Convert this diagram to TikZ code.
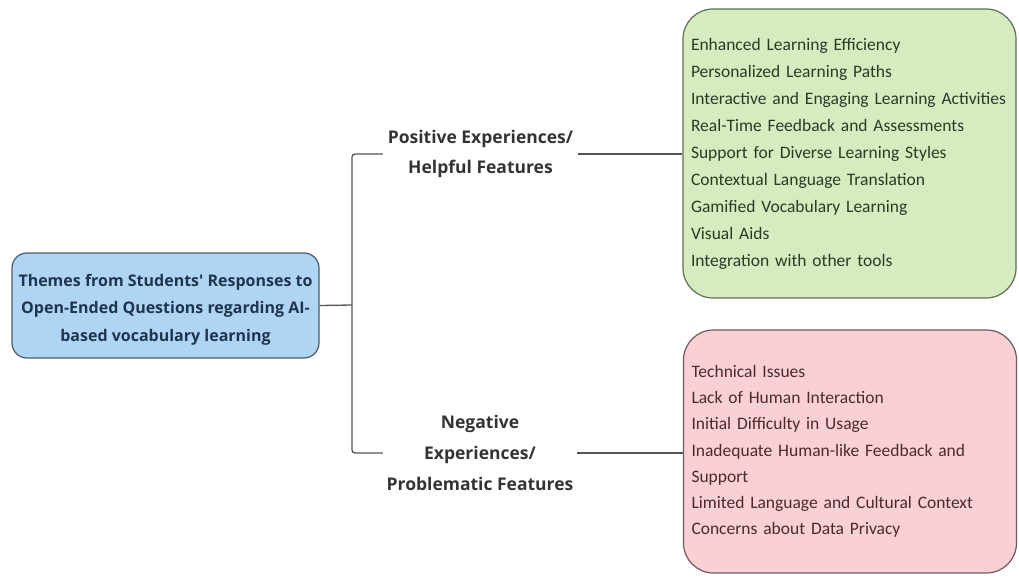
\documentclass[tikz,border=0pt]{standalone}
\usepackage{fontspec}
\setmainfont{Carlito}
\newfontfamily\labelfont{Open Sans}
\usetikzlibrary{positioning}
\definecolor{rootfill}{HTML}{B0D5F4}
\definecolor{rootdraw}{HTML}{4A5A6C}
\definecolor{roottext}{HTML}{1E3550}
\definecolor{posfill}{HTML}{D6ECC0}
\definecolor{posdraw}{HTML}{5E6E55}
\definecolor{postext}{HTML}{2C3A24}
\definecolor{negfill}{HTML}{FAD0D5}
\definecolor{negdraw}{HTML}{6E5A5E}
\definecolor{negtext}{HTML}{4A2A2C}
\definecolor{wire}{HTML}{555555}
\tikzset{
  rootbox/.style={draw=rootdraw, fill=rootfill, line width=1.2pt, rounded corners=15pt,
    minimum width=307pt, minimum height=105pt, align=center,
    font=\labelfont\bfseries\fontsize{16}{27.5}\selectfont, text=roottext},
  branchlabel/.style={align=center, inner sep=0pt, text=black!80,
    font=\labelfont\bfseries\fontsize{17.5}{29.5}\selectfont},
  listbox/.style={line width=1.2pt, rounded corners=30pt, align=left, inner xsep=8pt,
    text width=317pt, font=\fontsize{17.5}{27}\selectfont},
  wireline/.style={draw=wire, line width=1.3pt, rounded corners=3pt}
}
\begin{document}
\begin{tikzpicture}[x=1pt,y=-1pt]
  \useasboundingbox (0,0) rectangle (1019,578);
  % root theme (the strut on the first line lowers the text block a little)
  \node[rootbox] (root) at (165.5,305.5)
    {\rule{0pt}{20pt}Themes from Students' Responses to\\Open-Ended Questions regarding AI-\\based vocabulary learning};
  % branch labels
  \node[branchlabel, minimum width=195pt] (pos) at (480.5,154)
    {Positive Experiences/\\Helpful Features};
  \node[branchlabel, minimum width=194pt, font=\labelfont\bfseries\fontsize{17.5}{31}\selectfont]
    (neg) at (480,453)
    {Negative\\Experiences/\\Problematic Features};
  % feature lists
  \node[listbox, draw=posdraw, fill=posfill, text=postext,
        minimum height=289pt] (poslist) at (849.5,153.5)
    {Enhanced Learning Efficiency\\
     Personalized Learning Paths\\
     Interactive and Engaging Learning Activities\\
     Real-Time Feedback and Assessments\\
     Support for Diverse Learning Styles\\
     Contextual Language Translation\\
     Gamified Vocabulary Learning\\
     Visual Aids\\
     Integration with other tools};
  \node[listbox, draw=negdraw, fill=negfill, text=negtext,
        minimum height=243pt, font=\fontsize{17.5}{26.2}\selectfont] (neglist) at (850,451.5)
    {Technical Issues\\
     Lack of Human Interaction\\
     Initial Difficulty in Usage\\
     Inadequate Human-like Feedback and\\
     Support\\
     Limited Language and Cultural Context\\
     Concerns about Data Privacy};
  % connectors
  \coordinate (fork) at (352,305);
  \draw[wireline] (root.east) -- (fork);
  \draw[wireline] (fork) |- (pos.west);
  \draw[wireline] (fork) |- (neg.west);
  \draw[wireline] (pos.east) -- (pos.east -| poslist.west);
  \draw[wireline] (neg.east) -- (neg.east -| neglist.west);
\end{tikzpicture}
\end{document}
